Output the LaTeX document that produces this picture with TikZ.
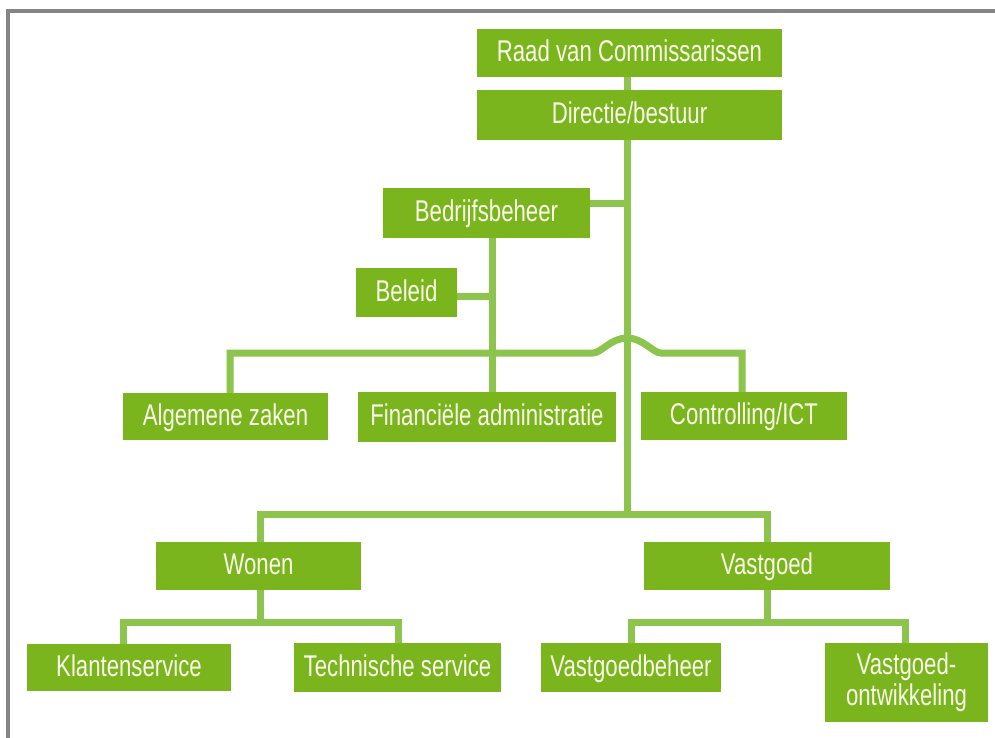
\documentclass[tikz,border=0pt]{standalone}
\usepackage{fontspec}
\setmainfont{Liberation Sans}[FakeStretch=0.74]
\definecolor{boxgreen}{HTML}{7AB51D}
\definecolor{linegreen}{HTML}{8DC44E}
\definecolor{boxtext}{HTML}{FAFCEA}
\definecolor{framegray}{HTML}{858585}
\begin{document}
\begin{tikzpicture}[x=1pt,y=-1pt,
  orgbase/.style={fill=boxgreen, text=boxtext, inner sep=0pt, align=center,
    font=\fontsize{30}{31}\selectfont},
  orgbox/.style={orgbase, text height=21pt, text depth=3.5pt},
  conn/.style={draw=linegreen, line width=7pt}]
\useasboundingbox (0,0) rectangle (995,738);
\fill[white] (0,0) rectangle (995,738);
\draw[framegray, line width=3.5pt] (8,738) -- (8,11) -- (995,11);

% boxes
\node[orgbox, minimum width=305pt, minimum height=48pt] (raad) at (629.5,53) {Raad van Commissarissen};
\node[orgbox, minimum width=305pt, minimum height=50pt] (dir) at (629.5,115) {Directie/bestuur};
\node[orgbox, minimum width=207pt, minimum height=50pt] (bedr) at (486.5,213) {Bedrijfsbeheer};
\node[orgbox, minimum width=101pt, minimum height=49pt] (beleid) at (406.5,292.5) {Beleid};
\node[orgbox, minimum width=205pt, minimum height=47pt] (alg) at (225.5,416.5) {Algemene zaken};
\node[orgbox, minimum width=258pt, minimum height=50pt] (fin) at (487,417) {Financiële administratie};
\node[orgbox, minimum width=206pt, minimum height=48pt] (ctrl) at (744,416) {Controlling/ICT};
\node[orgbox, minimum width=205pt, minimum height=48pt] (wonen) at (258.5,566) {Wonen};
\node[orgbox, minimum width=246pt, minimum height=48pt] (vast) at (767,566) {Vastgoed};
\node[orgbox, minimum width=204pt, minimum height=47pt] (klant) at (129,667.5) {Klantenservice};
\node[orgbox, minimum width=207pt, minimum height=49pt] (tech) at (397.5,667.5) {Technische service};
\node[orgbox, minimum width=180pt, minimum height=49pt] (vbeh) at (631,667.5) {Vastgoedbeheer};
\node[orgbase, minimum width=163pt, minimum height=79pt] (vont) at (906.5,682.5) {Vastgoed-\\ontwikkeling};

% junction coordinates
\coordinate (j1) at (627,203);
\coordinate (j2) at (627,514);
\coordinate (bx) at (492,296);
\coordinate (busL) at (230,353);
\coordinate (busR) at (742,353);
\coordinate (hopL) at (593,353);
\coordinate (hopT) at (627,338);
\coordinate (hopR) at (661,353);
\coordinate (wx) at (260,514);
\coordinate (vx) at (767,514);
\coordinate (wb) at (260,622);
\coordinate (kb) at (123,622);
\coordinate (tb) at (398,622);
\coordinate (vb) at (767,622);
\coordinate (vbl) at (631,622);
\coordinate (vbr) at (905,622);

% connectors
\draw[conn] (raad.south -| j1) -- (dir.north -| j1);
\draw[conn] (dir.south -| j1) -- (j2);
\draw[conn] (bedr.east |- j1) -- (j1);
\draw[conn] (bedr.south -| bx) -- (fin.north -| bx);
\draw[conn] (beleid.east |- bx) -- (bx);
\draw[conn] (alg.north -| busL) -- (busL) -- (hopL)
  .. controls +(8,0) and +(-16,0) .. (hopT)
  .. controls +(16,0) and +(-8,0) .. (hopR) -- (busR) -- (ctrl.north -| busR);
\draw[conn] (wonen.north -| wx) -- (wx) -- (vx) -- (vast.north -| vx);
\draw[conn] (wonen.south -| wb) -- (wb);
\draw[conn] (klant.north -| kb) -- (kb) -- (tb) -- (tech.north -| tb);
\draw[conn] (vast.south -| vb) -- (vb);
\draw[conn] (vbeh.north -| vbl) -- (vbl) -- (vbr) -- (vont.north -| vbr);
\end{tikzpicture}
\end{document}
